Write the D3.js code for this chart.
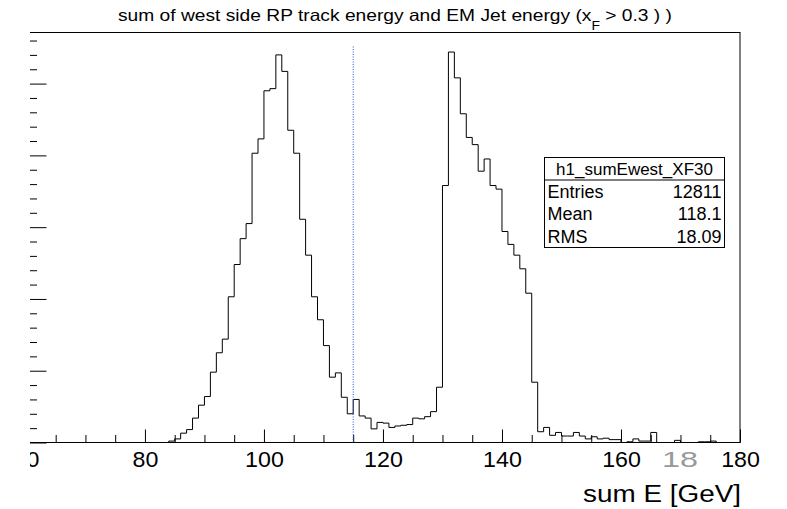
<!DOCTYPE html>
<html>
<head>
<meta charset="utf-8">
<script src="https://cdn.jsdelivr.net/npm/d3@7"></script>
<style>
  body { margin: 0; background: #fff; }
  svg { display: block; }
  text { font-family: "Liberation Sans", Arial, Helvetica, sans-serif; }
</style>
</head>
<body>
<svg id="chart" width="787" height="509"></svg>
<script>
// histogram h1_sumEwest_XF30, 1 GeV bins starting at 84 GeV
const firstBin = 84
const binWidth = 1
const counts = [
  2, 5, 13, 18, 34, 52, 64, 98, 125, 144,          // 84-93
  203, 248, 284, 305, 403, 423, 490, 493, 540, 517, // 94-103
  435, 403, 311, 261, 203, 171, 135, 91, 97, 63,    // 104-113
  40, 60, 37, 34, 19, 28, 27, 21, 23, 24,           // 114-123
  25, 34, 33, 36, 43, 77, 358, 544, 508, 458,       // 124-133
  425, 415, 378, 395, 358, 353, 294, 276, 261, 242, // 134-143
  208, 84, 15, 21, 10, 14, 9, 9, 14, 9,             // 144-153
  5, 8, 5, 6, 4, 4, 0, 1, 5, 2,                     // 154-163
  2, 14, 0, 0, 0, 3, 0, 0, 0, 1,                    // 164-173
  1, 2, 0, 0, 0, 0                                  // 174-179
]
const xMajorTicks = [60, 80, 100, 120, 140, 160, 180]
const xMinorStep = 5
const yMajorTicks = [0, 100, 200, 300, 400, 500]
const yMinorStep = 20
const statNames = ['Entries', 'Mean', 'RMS']
const statValues = ['12811', '118.1', '18.09']
const histName = 'h1_sumEwest_XF30'
const cutValue = 115
const cutTop = 552

const svg = d3.select('#chart')
const frame = { left: 29.5, right: 740, top: 32.5, bottom: 442.5 }

const x = d3.scaleLinear().domain([60.6, 180]).range([frame.left, frame.right])
const yMax = d3.max(counts) * 1.05
const y = d3.scaleLinear().domain([0, yMax]).range([frame.bottom, frame.top])

// the picture is cropped just right of the y axis line
svg.append('defs').append('clipPath').attr('id', 'crop')
  .append('rect').attr('x', 30).attr('y', 0).attr('width', 787).attr('height', 509)
const g = svg.append('g').attr('clip-path', 'url(#crop)')

// title
const title = g.append('text')
  .attr('x', 395).attr('y', 21)
  .attr('text-anchor', 'middle')
  .style('font-size', '16.5px')
  .attr('textLength', 554).attr('lengthAdjust', 'spacingAndGlyphs')
title.append('tspan').text('sum of west side RP track energy and EM Jet energy (x')
title.append('tspan').attr('dy', 9).style('font-size', '12px').text('F')
title.append('tspan').attr('dy', -9).text(' > 0.3 ) )')

// frame
g.append('rect')
  .attr('x', frame.left).attr('y', frame.top)
  .attr('width', frame.right - frame.left).attr('height', frame.bottom - frame.top)
  .attr('fill', 'none').attr('stroke', '#000').attr('stroke-width', 1)

// x axis: minor ticks, then major ticks with labels
const xMinor = d3.range(65, 180, xMinorStep).filter(v => v % 20 !== 0)
g.append('g')
  .attr('transform', `translate(0,${frame.bottom})`)
  .call(d3.axisBottom(x).tickValues(xMinor).tickSize(-7.5).tickFormat(''))
  .call(s => s.select('.domain').remove())

const xAxis = g.append('g')
  .attr('transform', `translate(0,${frame.bottom})`)
  .call(d3.axisBottom(x).tickValues(xMajorTicks).tickSize(-13).tickPadding(9.5).tickFormat(d3.format('d')))
  .call(s => s.select('.domain').remove())
xAxis.selectAll('text')
  .style('font-size', '21.5px')
  .style('fill', '#000')
  .attr('transform', 'scale(1.08,1)')
g.selectAll('.tick line').attr('stroke', '#000')

// y axis ticks (labels are outside the cropped picture)
const yMinor = d3.range(0, yMax, yMinorStep).filter(v => v % 100 !== 0)
g.append('g')
  .attr('transform', `translate(${frame.left},0)`)
  .call(d3.axisRight(y).tickValues(yMinor).tickSize(7.5).tickFormat(''))
  .call(s => s.select('.domain').remove())
g.append('g')
  .attr('transform', `translate(${frame.left},0)`)
  .call(d3.axisRight(y).tickValues(yMajorTicks).tickSize(17).tickFormat(''))
  .call(s => s.select('.domain').remove())
g.selectAll('.tick line').attr('stroke', '#000')

// histogram outline
const pts = [[firstBin, 0]]
counts.forEach((c, i) => {
  pts.push([firstBin + i * binWidth, c])
  pts.push([firstBin + (i + 1) * binWidth, c])
})
pts.push([firstBin + counts.length * binWidth, 0])
g.append('path')
  .datum(pts)
  .attr('fill', 'none')
  .attr('stroke', '#000')
  .attr('stroke-width', 1)
  .attr('d', d3.line().x(d => x(d[0])).y(d => y(d[1])))

// cut line
g.append('line')
  .attr('x1', x(cutValue)).attr('x2', x(cutValue))
  .attr('y1', y(0)).attr('y2', y(cutTop))
  .attr('stroke', '#1a55e0')
  .attr('stroke-width', 1)
  .attr('stroke-dasharray', '1,1.5')

// stray grey label
g.append('text')
  .attr('x', 680).attr('y', 466.7)
  .attr('text-anchor', 'middle')
  .style('font-size', '21.5px')
  .style('fill', '#999')
  .attr('textLength', 36).attr('lengthAdjust', 'spacingAndGlyphs')
  .text('18')

// axis title
g.append('text')
  .attr('x', 741).attr('y', 502)
  .attr('text-anchor', 'end')
  .style('font-size', '23.5px')
  .style('fill', '#000')
  .attr('textLength', 158).attr('lengthAdjust', 'spacingAndGlyphs')
  .text('sum E [GeV]')

// stats box
const box = { x: 544.5, y: 157.5, w: 180, h: 90 }
const rowH = box.h / 4
const stats = g.append('g')
stats.append('rect')
  .attr('x', box.x).attr('y', box.y).attr('width', box.w).attr('height', box.h)
  .attr('fill', '#fff').attr('stroke', '#000')
stats.append('line')
  .attr('x1', box.x).attr('x2', box.x + box.w)
  .attr('y1', box.y + rowH).attr('y2', box.y + rowH)
  .attr('stroke', '#000')
stats.append('text')
  .attr('x', box.x + box.w / 2).attr('y', box.y + rowH / 2 + 6)
  .attr('text-anchor', 'middle')
  .style('font-size', '17px')
  .text(histName)
statNames.forEach((name, i) => {
  const yy = box.y + rowH * (i + 1.5) + 6.5
  stats.append('text').attr('x', box.x + 3).attr('y', yy)
    .style('font-size', '18px').text(name)
  stats.append('text').attr('x', box.x + box.w - 3).attr('y', yy)
    .attr('text-anchor', 'end')
    .style('font-size', '18px').text(statValues[i])
})
</script>
</body>
</html>
